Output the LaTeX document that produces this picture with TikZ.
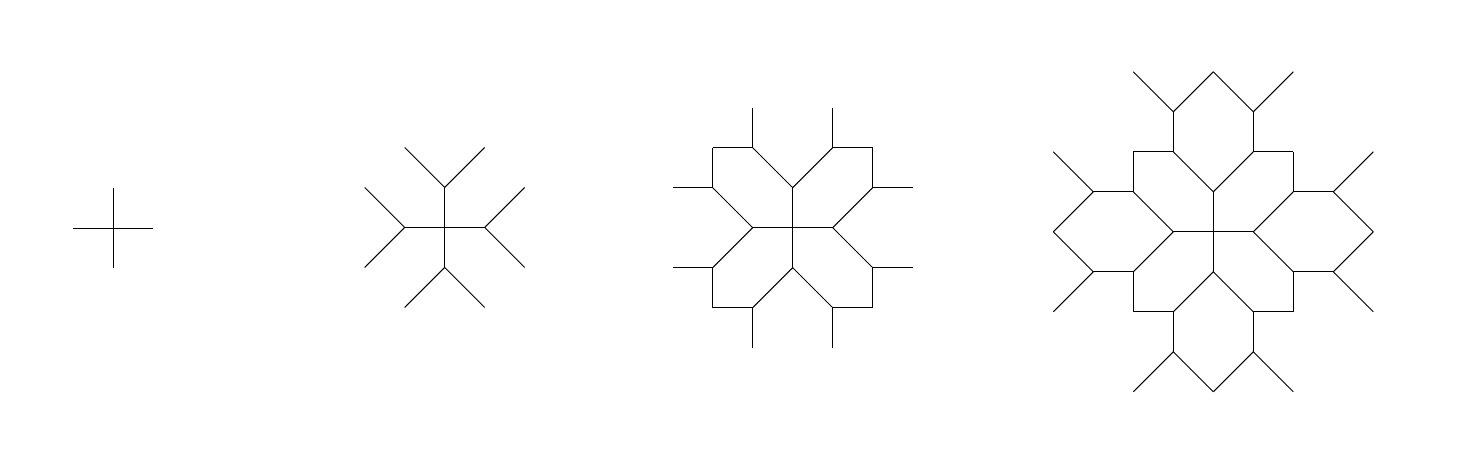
\documentclass[tikz,border=0pt]{standalone}
\usepackage{tikz}

\begin{document}
\begin{tikzpicture}[x=1cm, y=1cm, line width=0.7pt, twig/.style={line join=miter}]
    \useasboundingbox (0,0) rectangle (36.475,11.675);

    % Centres of the four growth stages
    \coordinate (S1) at (2.8325,5.9675);
    \coordinate (S2) at (11.1175,5.9875);
    \coordinate (S3) at (19.8175,5.9825);
    \coordinate (S4) at (30.3325,5.88);

    % Each stage repeats the same quarter, turned four times
    \foreach \c/\n in {S1/1, S2/2, S3/3, S4/4} {
        \foreach \r in {0,90,180,270} {
            \begin{scope}[shift={(\c)}, rotate=\r]
                % Arm
                \draw[twig] (0,0) -- (0,1);
                % Diagonal fork
                \ifnum\n>1 \draw[twig] (-1,2) -- (0,1) -- (1,2); \fi
                % Straight fork
                \ifnum\n>2
                    \draw[twig] (-2,2) -- (-1,2) -- (-1,3);
                    \draw[twig] (2,2) -- (1,2) -- (1,3);
                \fi
                % Outer diagonal fork
                \ifnum\n>3
                    \draw[twig] (-2,4) -- (-1,3) -- (0,4);
                    \draw[twig] (0,4) -- (1,3) -- (2,4);
                \fi
            \end{scope}
        }
    }
\end{tikzpicture}
\end{document}
